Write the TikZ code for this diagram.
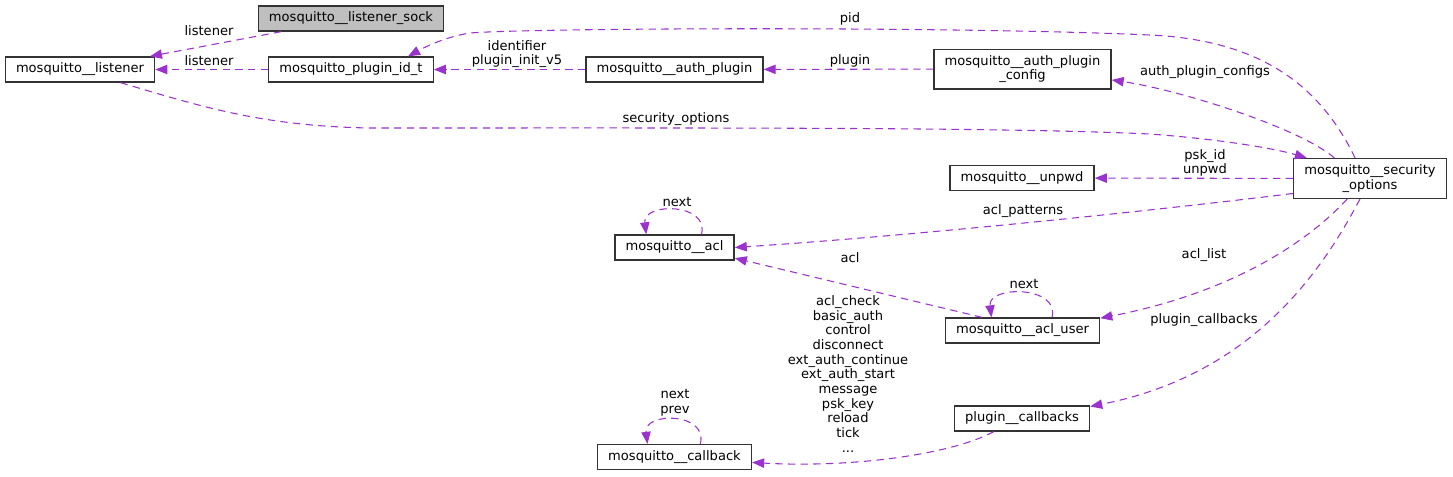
\documentclass[tikz,border=0pt]{standalone}
\usepackage{fontspec}
\setmainfont{DejaVu Sans}
\usepackage{xcolor}
\usetikzlibrary{arrows.meta}
\definecolor{relcolor}{HTML}{9A32CD}
\definecolor{boxline}{HTML}{333333}
\definecolor{boxgray}{HTML}{BFBFBF}

\begin{document}
\begin{tikzpicture}[x=0.75pt, y=-0.75pt,
  every node/.style={font=\fontsize{9.8}{11}\selectfont},
  cls/.style={draw=boxline, line width=1pt, fill=white, inner xsep=8pt,
    inner ysep=4.5pt, minimum height=18.75pt, align=center},
  rel/.style={draw=relcolor, line width=0.8pt, dash pattern=on 5.5pt off 4pt,
    -{Triangle[length=9pt, width=7pt, fill=relcolor]}},
  lbl/.style={inner sep=0pt, align=center}]
  \useasboundingbox (0,0) rectangle (1453,476);

  \node[cls, fill=boxgray] (sock) at (351,18.5) {mosquitto\_\_listener\_sock};
  \node[cls] (listener) at (80,69.5) {mosquitto\_\_listener};
  \node[cls] (pluginid) at (351,69.5) {mosquitto\_plugin\_id\_t};
  \node[cls] (authplugin) at (674.5,69.5) {mosquitto\_\_auth\_plugin};
  \node[cls] (apconfig) at (1022.5,69) {mosquitto\_\_auth\_plugin\\\_config};
  \node[cls] (unpwd) at (1022,178) {mosquitto\_\_unpwd};
  \node[cls] (secopts) at (1370,178.5) {mosquitto\_\_security\\\_options};
  \node[cls] (acl) at (674.5,247.5) {mosquitto\_\_acl};
  \node[cls] (acluser) at (1022.5,330.5) {mosquitto\_\_acl\_user};
  \node[cls] (plugincb) at (1022,418.5) {plugin\_\_callbacks};
  \node[cls] (callback) at (674.5,457) {mosquitto\_\_callback};

  \draw[rel] (sock) -- (listener);
  \draw[rel] (pluginid) -- (listener);
  \draw[rel] (authplugin) -- (pluginid);
  \draw[rel] (apconfig) -- (authplugin);
  \draw[rel] (secopts.126) .. controls (1320,85) and (1260,40) .. (1150,35)
    .. controls (950,26) and (530,28) .. (470,33)
    .. controls (445,37) and (425,47) .. (pluginid.13);
  \draw[rel] (secopts.150) .. controls (1300,128) and (1180,90) .. (apconfig.-7);
  \draw[rel] (listener.-18) .. controls (200,106) and (260,126) .. (370,128)
    .. controls (700,128) and (1000,127) .. (1150,134)
    .. controls (1230,140) and (1280,150) .. (secopts.162);
  \draw[rel] (secopts) -- (unpwd);
  \draw[rel] (secopts.191) .. controls (1200,205) and (950,233) .. (acl.east);
  \draw[rel] (acluser.162) -- (acl.-10);
  \draw[rel] (secopts.222) .. controls (1300,250) and (1220,295) .. (acluser.9);
  \draw[rel] (secopts.244) .. controls (1320,275) and (1250,375) .. (plugincb.10);
  \draw[rel] (plugincb.205) .. controls (950,455) and (850,468) .. (callback.-4);
  \draw[rel] (acl.26) .. controls +(8,-32) and +(-4,-32) .. (acl.155);
  \draw[rel] (acluser.24) .. controls +(8,-32) and +(-4,-32) .. (acluser.157);
  \draw[rel] (callback.27) .. controls +(8,-32) and +(-4,-32) .. (callback.154);

  \node[lbl] (l-sock) at (209,31) {listener};
  \node[lbl] (l-listener) at (209,61) {listener};
  \node[lbl] (l-ident) at (517,54) {identifier\\plugin\_init\_v5};
  \node[lbl] (l-plugin) at (850,61) {plugin};
  \node[lbl] (l-pid) at (850,19) {pid};
  \node[lbl] (l-configs) at (1205,72) {auth\_plugin\_configs};
  \node[lbl] (l-secopts) at (676,119) {security\_options};
  \node[lbl] (l-unpwd) at (1205,163) {psk\_id\\unpwd};
  \node[lbl] (l-patterns) at (1023,211) {acl\_patterns};
  \node[lbl] (l-acl) at (850,258) {acl};
  \node[lbl] (l-aclnext) at (677,202) {next};
  \node[lbl] (l-usernext) at (1024,284) {next};
  \node[lbl] (l-acllist) at (1204,255) {acl\_list};
  \node[lbl] (l-plugincb) at (1204,320) {plugin\_callbacks};
  \node[lbl] (l-cbnext) at (675,403) {next\\prev};
  \node[lbl] (l-cbfuncs) at (848,374) {acl\_check\\basic\_auth\\control\\disconnect\\ext\_auth\_continue\\ext\_auth\_start\\message\\psk\_key\\reload\\tick\\...};
\end{tikzpicture}
\end{document}
